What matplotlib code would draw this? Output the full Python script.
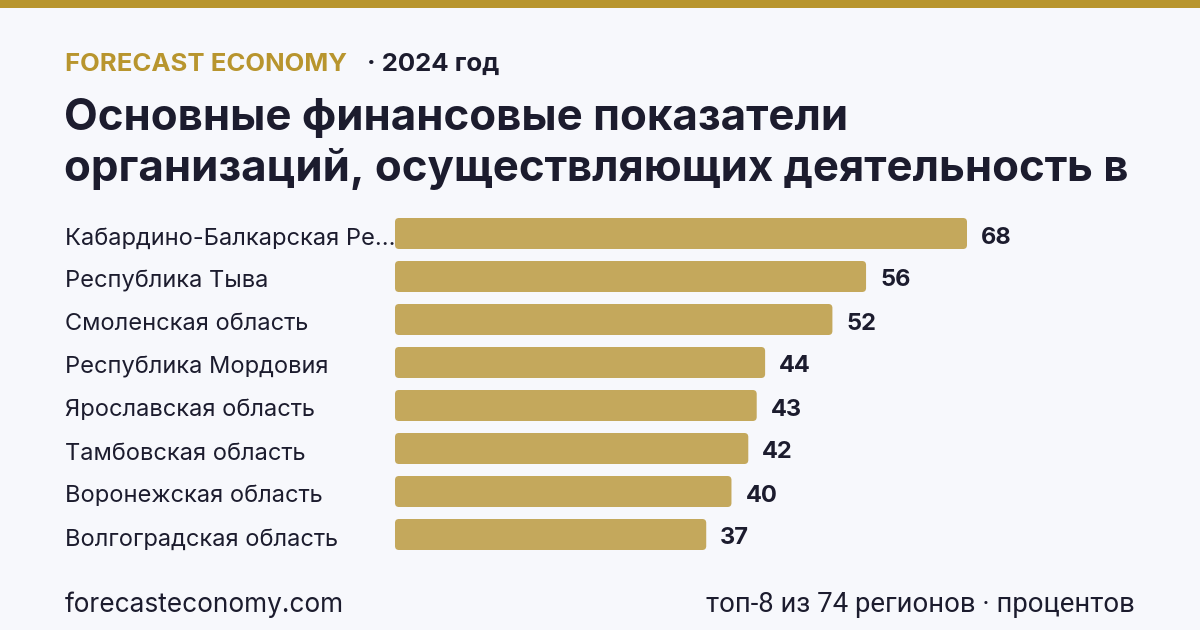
import matplotlib
matplotlib.use("Agg")
import matplotlib.pyplot as plt
from matplotlib.patches import FancyBboxPatch, Rectangle

regions = [
    "Кабардино-Балкарская Ре...",
    "Республика Тыва",
    "Смоленская область",
    "Республика Мордовия",
    "Ярославская область",
    "Тамбовская область",
    "Воронежская область",
    "Волгоградская область",
]
values = [68, 56, 52, 44, 43, 42, 40, 37]

brand = "FORECAST ECONOMY"
year_note = "· 2024 год"
title_lines = ["Основные финансовые показатели",
               "организаций, осуществляющих деятельность в"]
site = "forecasteconomy.com"
footnote = "топ-8 из 74 регионов · процентов"

W, H = 1200, 630
BG = "#f7f8fc"
GOLD = "#b8952e"
BAR = "#c4a85c"
INK = "#1c1c2e"

plt.rcParams["font.family"] = ["Inter", "DejaVu Sans"]

fig = plt.figure(figsize=(W / 100, H / 100), dpi=100, facecolor=BG)


def fx(x):
    return x / W


def fy(y):
    return 1 - y / H


# top accent strip
fig.patches.append(Rectangle((0, fy(8)), 1, 8 / H, transform=fig.transFigure,
                             color=GOLD, lw=0))

fig.text(fx(65), fy(71), brand, color=GOLD, fontsize=18.5, fontweight="bold",
         va="baseline", ha="left")
fig.text(fx(367), fy(71), year_note, color=INK, fontsize=18.5, fontweight="bold",
         va="baseline", ha="left")
for i, line in enumerate(title_lines):
    fig.text(fx(64), fy(130 + 51 * i), line, color=INK, fontsize=31.5,
             fontweight="bold", va="baseline", ha="left")

# bar area: 0 -> x=395px, 68 -> x=967px, rows 43px apart, first centre y=233.5
row = 43
c0 = 233.5
top = c0 - row / 2
n = len(values)
ax = fig.add_axes([fx(395), fy(top + row * n), fx(967 - 395), row * n / H])
ax.set_facecolor("none")
ax.set_xlim(0, 68)
ax.set_ylim(n - 0.5, -0.5)
ax.axis("off")

bars = ax.barh(range(n), values, height=31 / row, color=BAR)
xu = 68 / 572  # data units per px in x
yu = 1 / row
for b in list(bars):
    fb = FancyBboxPatch((b.get_x(), b.get_y()), b.get_width(), b.get_height(),
                        boxstyle="round,pad=0,rounding_size=%f" % (4 * xu),
                        mutation_aspect=yu / xu, fc=BAR, ec="none")
    b.remove()
    ax.add_patch(fb)

for i, (name, v) in enumerate(zip(regions, values)):
    ax.text(v + 14 * xu, i + 10 * yu, str(v), color=INK, fontsize=17,
            fontweight="bold", va="baseline", ha="left")
    fig.text(fx(65), fy(c0 + 11 + row * i), name, color=INK, fontsize=17,
             va="baseline", ha="left")

fig.text(fx(65), fy(612), site, color=INK, fontsize=18.9, va="baseline", ha="left")
fig.text(fx(1135), fy(612), footnote, color=INK, fontsize=19.8, va="baseline",
         ha="right", family=["Roboto", "DejaVu Sans"])

fig.savefig("out.png", dpi=100, facecolor=BG)
